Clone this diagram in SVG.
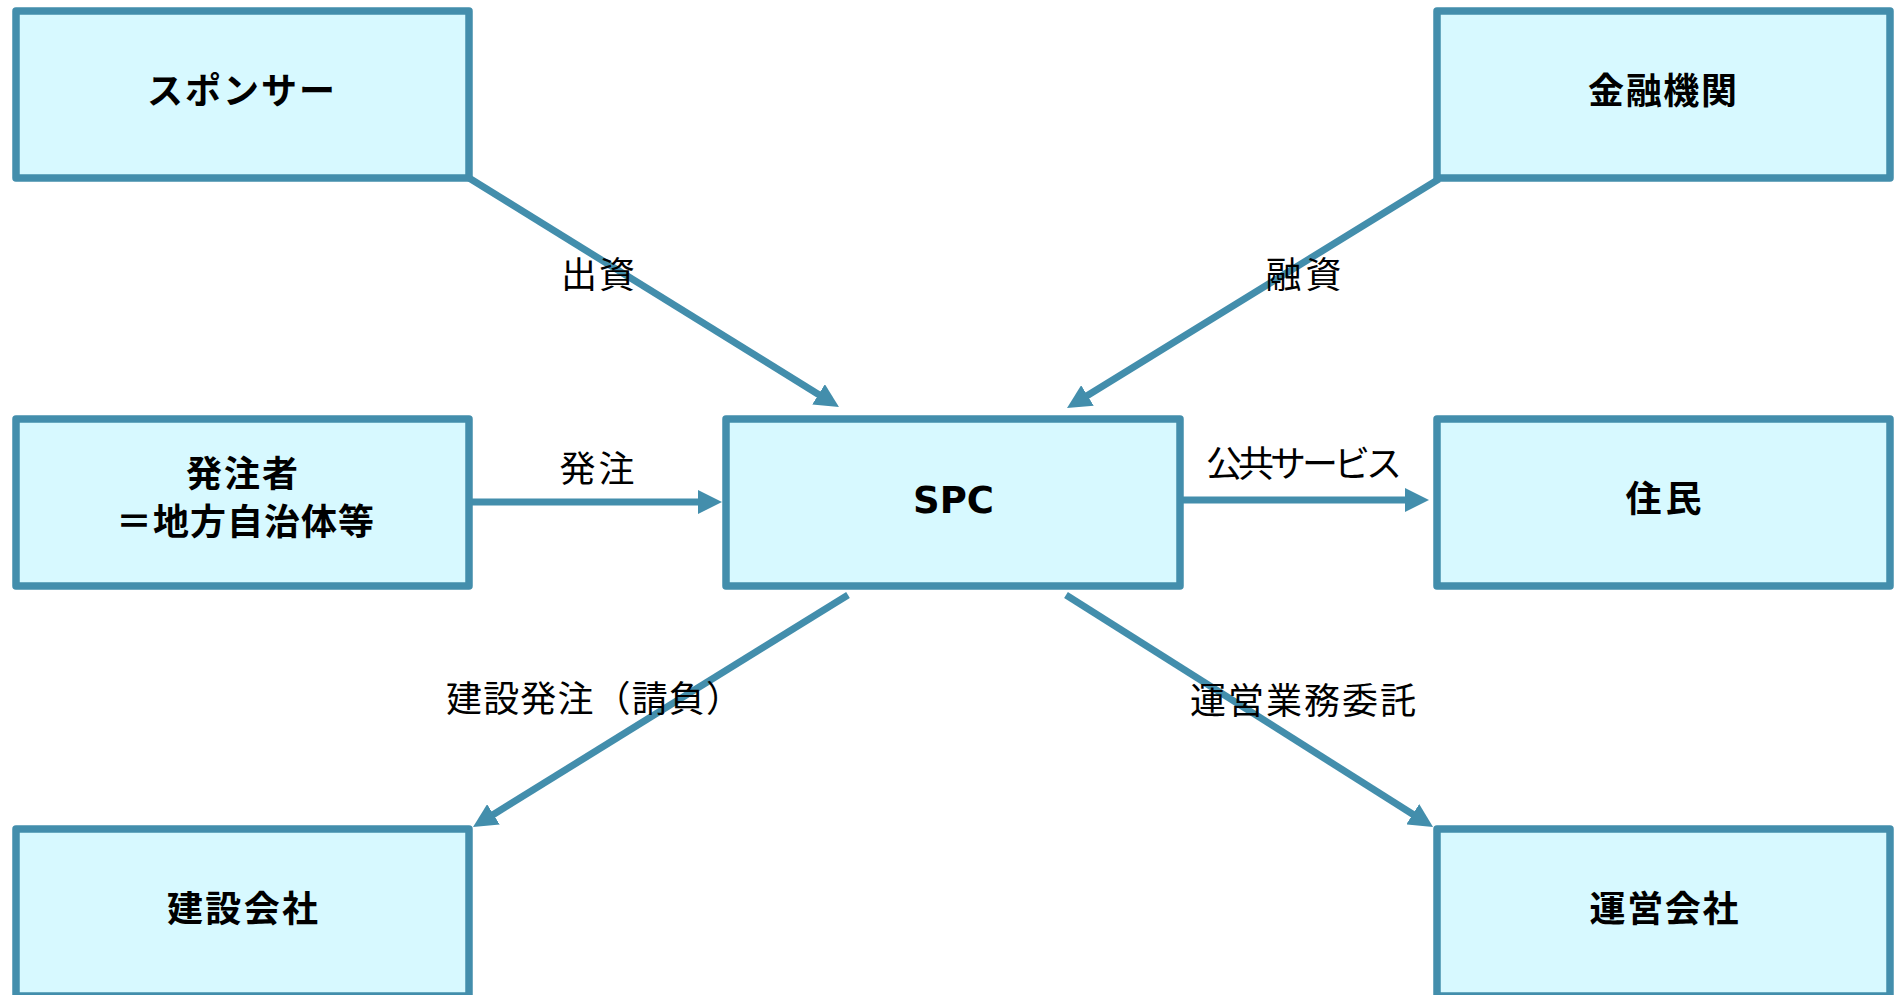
<svg xmlns="http://www.w3.org/2000/svg" width="1901" height="995" viewBox="0 0 1901 995">
<style>
.box{fill:#D7F9FF;stroke:#438EAC;stroke-width:7.5;stroke-linejoin:round}
.nt{font-family:"Noto Sans CJK JP","Noto Sans",sans-serif;font-weight:bold;font-size:36px;fill:#000;text-anchor:middle}
.lt{font-family:"Noto Sans CJK JP","Noto Sans",sans-serif;font-size:36px;fill:#000;text-anchor:middle}
.cn{stroke:#438EAC;stroke-width:7;fill:none;marker-end:url(#ah)}
</style>
<defs>
<marker id="ah" markerUnits="userSpaceOnUse" markerWidth="24" markerHeight="24" viewBox="0 0 24 24" refX="1" refY="12" orient="auto">
<path d="M0,0 L24,12 L0,24 z" fill="#438EAC"/>
</marker>
</defs>
<rect width="1901" height="995" fill="#fff"/>
<g id="connectors">
<line class="cn" x1="469" y1="178" x2="819.4" y2="394.9"/>
<line class="cn" x1="1439" y1="179" x2="1086.6" y2="396"/>
<line class="cn" x1="469" y1="502" x2="699" y2="502"/>
<line class="cn" x1="1180" y1="500" x2="1406" y2="500"/>
<line class="cn" x1="848" y1="595" x2="492.6" y2="814.9"/>
<line class="cn" x1="1066" y1="595" x2="1413.6" y2="814.7"/>
<text class="lt" x="598" y="288" textLength="74" lengthAdjust="spacing">出資</text>
<text class="lt" x="1303.5" y="288" textLength="76" lengthAdjust="spacing">融資</text>
<text class="lt" x="597" y="482" textLength="75" lengthAdjust="spacing">発注</text>
<text class="lt" x="1304" y="477" textLength="196" lengthAdjust="spacing">公共サービス</text>
<text class="lt" x="594" y="712" textLength="296" lengthAdjust="spacing">建設発注（請負）</text>
<text class="lt" x="1303" y="714" textLength="226" lengthAdjust="spacing">運営業務委託</text>
</g>
<g id="sponsor">
<rect class="box" x="16" y="11" width="453" height="167"/>
<text class="nt" x="241" y="104" textLength="188" lengthAdjust="spacing">スポンサー</text>
</g>
<g id="bank">
<rect class="box" x="1437" y="11" width="453" height="167"/>
<text class="nt" x="1662.5" y="104" textLength="149" lengthAdjust="spacing">金融機関</text>
</g>
<g id="orderer">
<rect class="box" x="16" y="419" width="453" height="167"/>
<text class="nt" x="242" y="487" font-size="35" textLength="112" lengthAdjust="spacing">発注者</text>
<text class="nt" x="245" y="535" font-size="35" textLength="258" lengthAdjust="spacing">＝地方自治体等</text>
</g>
<g id="spc">
<rect class="box" x="726" y="419" width="454" height="167"/>
<text x="953.5" y="513" font-family="'DejaVu Sans',Verdana,sans-serif" font-weight="bold" font-size="37" text-anchor="middle" fill="#000">SPC</text>
</g>
<g id="residents">
<rect class="box" x="1437" y="419" width="453" height="167"/>
<text class="nt" x="1663.5" y="512" textLength="76" lengthAdjust="spacing">住民</text>
</g>
<g id="construction">
<rect class="box" x="16" y="829" width="453" height="167"/>
<text class="nt" x="242.5" y="922" textLength="151" lengthAdjust="spacing">建設会社</text>
</g>
<g id="operator">
<rect class="box" x="1437" y="829" width="453" height="167"/>
<text class="nt" x="1664" y="922" textLength="149" lengthAdjust="spacing">運営会社</text>
</g>
</svg>
